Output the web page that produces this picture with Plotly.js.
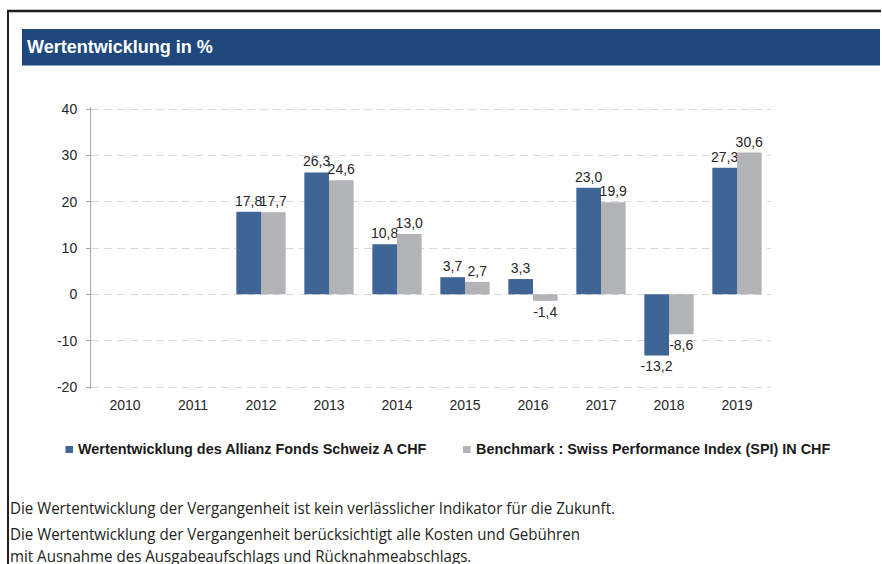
<!DOCTYPE html>
<html>
<head>
<meta charset="utf-8">
<script src="https://cdn.plot.ly/plotly-3.0.1.min.js"></script>
<style>
  html, body { margin: 0; padding: 0; background: #ffffff; overflow: hidden; width: 882px; height: 564px; }
  ::-webkit-scrollbar { display: none; width: 0; height: 0; }
  #wrap { position: relative; width: 882px; height: 564px; }
  #chart { position: absolute; left: 0; top: 0; width: 882px; height: 564px; }
  .foot { position: absolute; left: 10px; white-space: nowrap; font-family: "Open Sans", "Noto Sans", sans-serif;
          font-size: 16px; line-height: 16px; color: #231f20; transform-origin: 0 0; z-index: 5; }
</style>
</head>
<body>
<div id="wrap">
  <div id="chart"></div>
</div>
<script>
// ---- data ----
const years = ['2010', '2011', '2012', '2013', '2014', '2015', '2016', '2017', '2018', '2019'];
const fondsValues = [null, null, 17.8, 26.3, 10.8, 3.7, 3.3, 23.0, -13.2, 27.3];
const benchValues = [null, null, 17.7, 24.6, 13.0, 2.7, -1.4, 19.9, -8.6, 30.6];
const fondsName = 'Wertentwicklung des Allianz Fonds Schweiz A CHF';
const benchName = 'Benchmark : Swiss Performance Index (SPI) IN CHF';
const yTickVals = [-20, -10, 0, 10, 20, 30, 40];
const yTickText = ['-20', '-10', '0', '10', '20', '30', '40'];
const categoryBoundaries = [-0.5, 0.5, 1.5, 2.5, 3.5, 4.5, 5.5, 6.5, 7.5, 8.5, 9.5];
const chartTitle = 'Wertentwicklung in %';
const footerLines = [
  'Die Wertentwicklung der Vergangenheit ist kein verlässlicher Indikator für die Zukunft.',
  'Die Wertentwicklung der Vergangenheit berücksichtigt alle Kosten und Gebühren',
  'mit Ausnahme des Ausgabeaufschlags und Rücknahmeabschlags.'
];

// ---- styles ----
const BLUE = '#3f6496';
const GREY = '#b1b3b6';
const AXIS = '#a6a6a6';
const FONT = 'Liberation Sans, Arial, sans-serif';

const W = 882, H = 564;
// value range -20..40 spans 278 px (y 109 .. 387); pad 2 px each side so edge gridlines are drawn
const padPx = 2;
const yPad = padPx * 60 / 278;
const yMin = -20 - yPad, yMax = 40 + yPad;
const M = { l: 91, r: 111, t: 109 - padPx, b: 177 - padPx };
const PW = W - M.l - M.r, PH = H - M.t - M.b;
const px = x => (x - M.l) / PW;
const py = y => (H - M.b - y) / PH;

const fmt = v => (v === null ? '' : v.toFixed(1).replace('.', ','));

const traces = [
  {
    type: 'bar', name: fondsName, x: years, y: fondsValues,
    marker: { color: BLUE, line: { width: 0 } },
    text: fondsValues.map(fmt), textposition: 'outside', cliponaxis: false,
    constraintext: 'none', textangle: 0,
    textfont: { family: FONT, size: 14, color: '#262626' },
    hoverinfo: 'none'
  },
  {
    type: 'bar', name: benchName, x: years, y: benchValues,
    marker: { color: GREY, line: { width: 0 } },
    text: benchValues.map(fmt), textposition: 'outside', cliponaxis: false,
    constraintext: 'none', textangle: 0,
    textfont: { family: FONT, size: 14, color: '#262626' },
    hoverinfo: 'none'
  }
];

const shapes = [
  // outer frame lines
  { type: 'line', xref: 'paper', yref: 'paper', x0: px(7), x1: px(881), y0: py(11), y1: py(11),
    line: { color: '#231f20', width: 2.5 } },
  { type: 'line', xref: 'paper', yref: 'paper', x0: px(8), x1: px(8), y0: py(10), y1: py(566),
    line: { color: '#231f20', width: 2 } },
  // header bar
  { type: 'rect', xref: 'paper', yref: 'paper', x0: px(22), x1: px(880), y0: py(29), y1: py(65.5),
    fillcolor: '#1f497d', line: { width: 0 } },
  // legend swatches
  { type: 'rect', xref: 'paper', yref: 'paper', x0: px(65.5), x1: px(73), y0: py(446), y1: py(453),
    fillcolor: BLUE, line: { width: 0 } },
  { type: 'rect', xref: 'paper', yref: 'paper', x0: px(463), x1: px(470.5), y0: py(446), y1: py(453),
    fillcolor: GREY, line: { width: 0 } }
];

const annotations = [
  { xref: 'paper', yref: 'paper', x: px(76), y: py(449), xanchor: 'left', yanchor: 'middle',
    text: '<b>' + fondsName + '</b>', showarrow: false,
    font: { family: FONT, size: 14.4, color: '#1a1a1a' } },
  { xref: 'paper', yref: 'paper', x: px(473.5), y: py(449), xanchor: 'left', yanchor: 'middle',
    text: '<b>' + benchName + '</b>', showarrow: false,
    font: { family: FONT, size: 14.4, color: '#1a1a1a' } }
];

const layout = {
  width: W, height: H,
  margin: M,
  paper_bgcolor: '#ffffff', plot_bgcolor: '#ffffff',
  font: { family: FONT, size: 14, color: '#262626' },
  title: {
    text: '<b>' + chartTitle + '</b>',
    xref: 'container', yref: 'container',
    x: 27 / W, xanchor: 'left', y: 1 - 47 / H, yanchor: 'middle',
    font: { family: FONT, size: 18, color: '#ffffff' }
  },
  showlegend: false,
  barmode: 'group', bargap: 0.275, bargroupgap: 0,
  xaxis: {
    type: 'category', categoryorder: 'array', categoryarray: years,
    range: [-0.5, 9.5], showline: false, showgrid: false, zeroline: false,
    ticks: '', ticklabelstandoff: 6,
    tickfont: { family: FONT, size: 14, color: '#262626' }, fixedrange: true
  },
  xaxis2: {
    overlaying: 'x', anchor: 'free', position: (0 - yMin) / (yMax - yMin), type: 'linear',
    range: [-0.5, 9.5], tickmode: 'array', tickvals: categoryBoundaries,
    showticklabels: false, ticks: 'outside', ticklen: 4, tickcolor: AXIS, tickwidth: 1,
    showline: true, linecolor: AXIS, linewidth: 1, showgrid: false, zeroline: false, fixedrange: true
  },
  yaxis: {
    range: [yMin, yMax], tickmode: 'array', tickvals: yTickVals, ticktext: yTickText,
    showline: true, linecolor: AXIS, linewidth: 1,
    ticks: 'outside', ticklen: 4, tickcolor: AXIS, ticklabelstandoff: 6,
    showgrid: true, gridcolor: '#d9d9d9', gridwidth: 1, griddash: '8px,5px',
    zeroline: false,
    tickfont: { family: FONT, size: 14, color: '#262626' }, fixedrange: true
  },
  shapes: shapes,
  annotations: annotations
};

Plotly.newPlot('chart', traces, layout, { displayModeBar: false, staticPlot: true });

// ---- footer notes (HTML text, condensed to match reference width) ----
const wrap = document.getElementById('wrap');
const tops = [500, 526, 548];
const els = footerLines.map((t, i) => {
  const d = document.createElement('div');
  d.className = 'foot';
  d.style.top = tops[i] + 'px';
  d.textContent = t;
  wrap.appendChild(d);
  return d;
});
const w0 = els[0].getBoundingClientRect().width;
const s = w0 > 0 ? 605 / w0 : 1;
els.forEach(d => { d.style.transform = 'scaleX(' + s.toFixed(4) + ')'; });
</script>
</body>
</html>
